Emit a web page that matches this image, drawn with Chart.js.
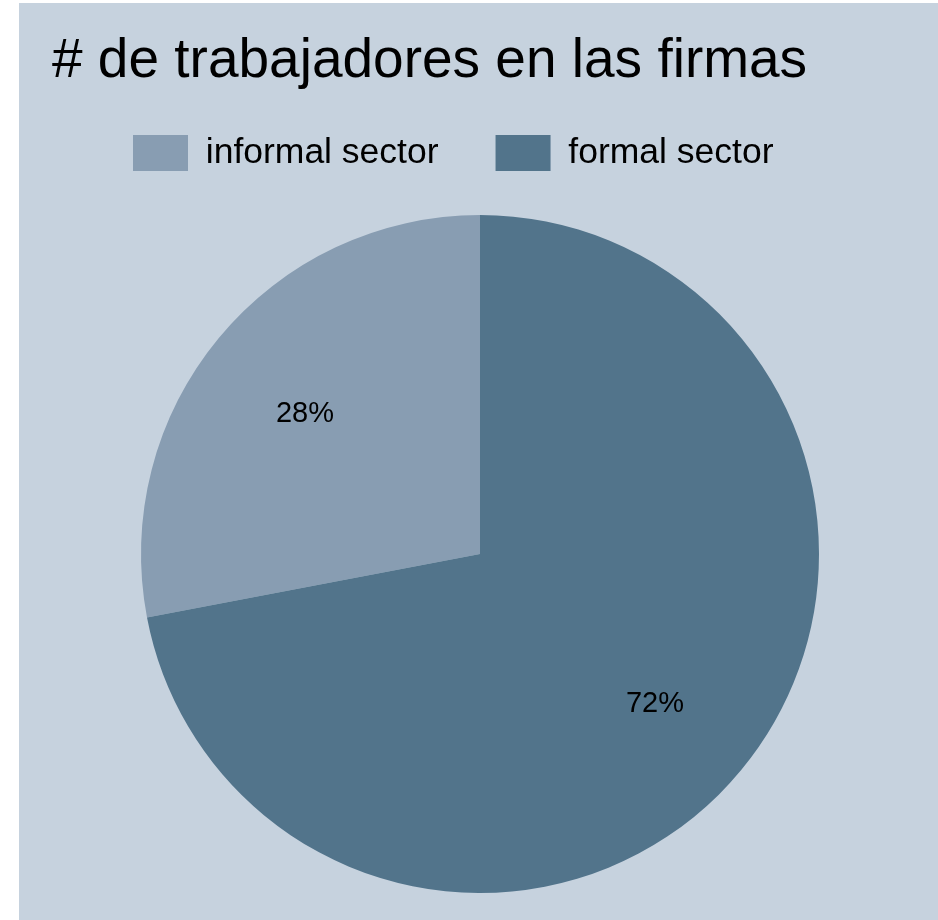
<!DOCTYPE html>
<html>
<head>
<meta charset="utf-8">
<script src="https://cdn.jsdelivr.net/npm/chart.js@4.4.1/dist/chart.umd.min.js"></script>
<style>
  html, body { margin: 0; padding: 0; background: #ffffff; overflow: hidden; width: 938px; height: 920px; }
  #panel { position: absolute; left: 19px; top: 3px; width: 919px; height: 917px; background: #c6d2de; }
  #wrap { position: absolute; left: 0; top: 0; width: 938px; height: 940px; }
</style>
</head>
<body>
<div id="panel"></div>
<div id="wrap"><canvas id="pie" width="938" height="940"></canvas></div>
<script>
// --- Datos ---
const titleText = "# de trabajadores en las firmas";
const sectors = ["informal sector", "formal sector"];
const shares = [28, 72];
const sectorColors = ["#889db2", "#52748b"];

const total = shares.reduce((a, b) => a + b, 0);

// --- Título ---
const titlePlugin = {
    id: "titleText",
    afterDraw(chart) {
        const ctx = chart.ctx;
        ctx.save();
        ctx.font = "55px 'Liberation Sans', Arial, sans-serif";
        ctx.fillStyle = "#000";
        ctx.textAlign = "left";
        ctx.textBaseline = "alphabetic";
        ctx.fillText(titleText, 52, 77);
        ctx.restore();
    }
};

// --- Porcentajes ---
const pctLabels = {
    id: "pctLabels",
    afterDatasetsDraw(chart) {
        const ctx = chart.ctx;
        const meta = chart.getDatasetMeta(0);
        ctx.save();
        ctx.font = "29px 'Liberation Sans', Arial, sans-serif";
        ctx.fillStyle = "#000";
        ctx.textAlign = "center";
        ctx.textBaseline = "middle";
        meta.data.forEach((arc, i) => {
            const p = arc.getProps(["x", "y", "startAngle", "endAngle", "outerRadius"], true);
            const mid = (p.startAngle + p.endAngle) / 2;
            const r = p.outerRadius * 0.67;
            const txt = Math.round(shares[i] / total * 100) + "%";
            ctx.fillText(txt, p.x + Math.cos(mid) * r, p.y + Math.sin(mid) * r + 5);
        });
        ctx.restore();
    }
};

new Chart(document.getElementById("pie").getContext("2d"), {
    type: "pie",
    data: {
        labels: sectors,
        datasets: [{
            data: shares,
            backgroundColor: sectorColors,
            borderWidth: 0,
            radius: 339
        }]
    },
    options: {
        responsive: false,
        animation: false,
        rotation: -360 * shares[0] / total,
        layout: { padding: { left: 76, right: 54, top: 78, bottom: 13 } },
        plugins: {
            tooltip: { enabled: false },
            title: { display: false },
            legend: {
                position: "top",
                align: "start",
                labels: {
                    boxWidth: 55,
                    boxHeight: 36,
                    padding: 57,
                    color: "#000",
                    font: { family: "'Liberation Sans', Arial, sans-serif", size: 35.5 }
                }
            }
        }
    },
    plugins: [pctLabels, titlePlugin]
});
</script>
</body>
</html>
